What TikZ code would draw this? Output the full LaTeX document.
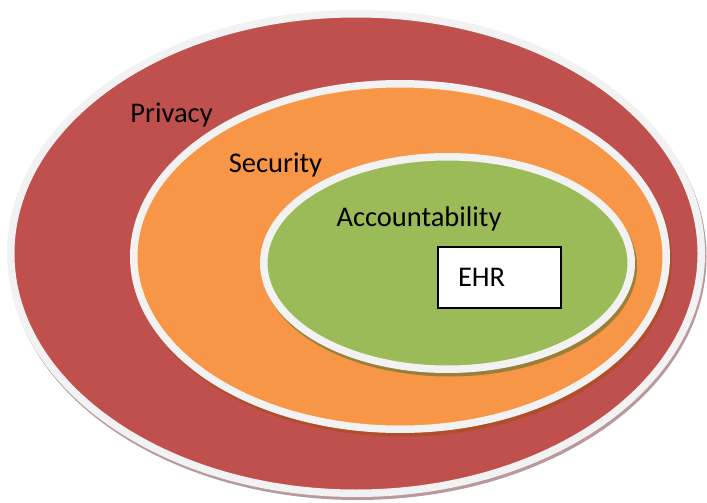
\documentclass[tikz,border=0pt]{standalone}
\usepackage{fontspec}
\setmainfont{Carlito}
\usetikzlibrary{positioning, shapes.geometric}

\definecolor{privred}{HTML}{C0504D}
\definecolor{secorange}{HTML}{F79646}
\definecolor{accgreen}{HTML}{9BBB59}
\definecolor{ringgray}{HTML}{F2F2F2}
\definecolor{privshadow}{HTML}{B89A9D}
\definecolor{secshadow}{HTML}{B04E2C}
\definecolor{accshadow}{HTML}{9A7F3A}

\begin{document}
\begin{tikzpicture}[x=1pt, y=-1pt, font=\fontsize{28.5}{34}\selectfont]
				\tikzstyle{ring} = [ellipse, draw=ringgray, line width=7.5pt, inner sep=0pt]
				\tikzstyle{label} = [anchor=base, text=black]
				\tikzstyle{box} = [rectangle, draw=black, line width=1.5pt, fill=white, text width=83pt, align=left, inner xsep=20pt, minimum height=61pt]
				
				\useasboundingbox (0,0) rectangle (707,503);
				
				\node [ring, fill=privred, minimum width=690.5pt, minimum height=479.5pt,
					preaction={draw=privshadow, fill=privshadow, transform canvas={xshift=1.5pt, yshift=-3pt}}] (privacy) at (356,253.5) {};
				\node [ring, fill=secorange, minimum width=532.5pt, minimum height=345.5pt,
					preaction={draw=secshadow, fill=secshadow, transform canvas={xshift=2pt, yshift=-3.5pt}}] (security) at (400,256.5) {};
				\node [ring, fill=accgreen, minimum width=367.5pt, minimum height=212.5pt,
					preaction={draw=accshadow, fill=accshadow, transform canvas={xshift=2pt, yshift=-3.5pt}}] (accountability) at (447.5,263) {};
				
				\node [label] (privacytext) at (171.5,122) {Privacy};
				\node [label] (securitytext) at (275.5,172) {Security};
				\node [label] (accountabilitytext) at (419,226) {Accountability};
				\node [box] (ehr) at (499.5,277.5) {EHR};
			\end{tikzpicture}
\end{document}
